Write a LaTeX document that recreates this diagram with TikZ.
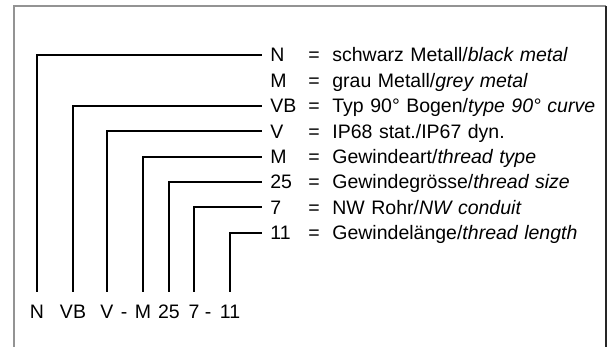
\documentclass[tikz,border=0pt]{standalone}
\usepackage{fontspec}
\setmainfont[WordSpace=1.2]{Liberation Sans}
\tikzset{
    txt/.style={font=\fontsize{9.75}{12}\selectfont, text height=7pt, text depth=0pt},
    code/.style={txt, anchor=west, inner xsep=4pt, inner ysep=0pt},
    desc/.style={txt, anchor=west, inner sep=0pt},
    part/.style={txt, anchor=base, inner xsep=0pt, inner ysep=6.5pt},
    conn/.style={line width=1pt}
}
\begin{document}
\begin{tikzpicture}[x=0.5pt, y=-0.5pt]
    \useasboundingbox (0,0) rectangle (611,347);
    % frame
    \draw[line width=1pt, gray!85] (14,347) -- (14,6.5) -- (606,6.5);
    \draw[line width=1pt, black!85] (606,6.5) -- (606,347);

    % codes on the right
    \node[code] (cN)  at (262,55)    {N};
    \node[code] (cM)  at (262,80.4)  {M};
    \node[code] (cVB) at (262,105.8) {VB};
    \node[code] (cV)  at (262,131.2) {V};
    \node[code] (cGA) at (262,156.6) {M};
    \node[code] (cGG) at (262,182)   {25};
    \node[code] (cNW) at (262,207.4) {7};
    \node[code] (cGL) at (262,232.8) {11};

    \node[desc] at (308,55)    {=};
    \node[desc] at (308,80.4)  {=};
    \node[desc] at (308,105.8) {=};
    \node[desc] at (308,131.2) {=};
    \node[desc] at (308,156.6) {=};
    \node[desc] at (308,182)   {=};
    \node[desc] at (308,207.4) {=};
    \node[desc] at (308,232.8) {=};

    \node[desc] at (332,55)    {schwarz Metall/\textit{black metal}};
    \node[desc] at (332,80.4)  {grau Metall/\textit{grey metal}};
    \node[desc] at (332,105.8) {Typ 90° Bogen/\textit{type 90° curve}};
    \node[desc] at (332,131.2) {IP68 stat./IP67 dyn.};
    \node[desc] at (332,156.6) {Gewindeart/\textit{thread type}};
    \node[desc] at (332,182)   {Gewindegrösse/\textit{thread size}};
    \node[desc] at (332,207.4) {NW Rohr/\textit{NW conduit}};
    \node[desc] at (332,232.8) {Gewindelänge/\textit{thread length}};

    % type code at the bottom
    \node[part] (bN)  at (37,319)  {N};
    \node[part] (bVB) at (73,319)  {VB};
    \node[part] (bV)  at (107,319) {V};
    \node[part]       at (124,319) {-};
    \node[part] (bGA) at (143,319) {M};
    \node[part] (bGG) at (169,319) {25};
    \node[part] (bNW) at (194,319) {7};
    \node[part]       at (208,319) {-};
    \node[part] (bGL) at (230,319) {11};

    \draw[conn] (bN.north)  |- (cN.west);
    \draw[conn] (bVB.north) |- (cVB.west);
    \draw[conn] (bV.north)  |- (cV.west);
    \draw[conn] (bGA.north) |- (cGA.west);
    \draw[conn] (bGG.north) |- (cGG.west);
    \draw[conn] (bNW.north) |- (cNW.west);
    \draw[conn] (bGL.north) |- (cGL.west);
\end{tikzpicture}
\end{document}
